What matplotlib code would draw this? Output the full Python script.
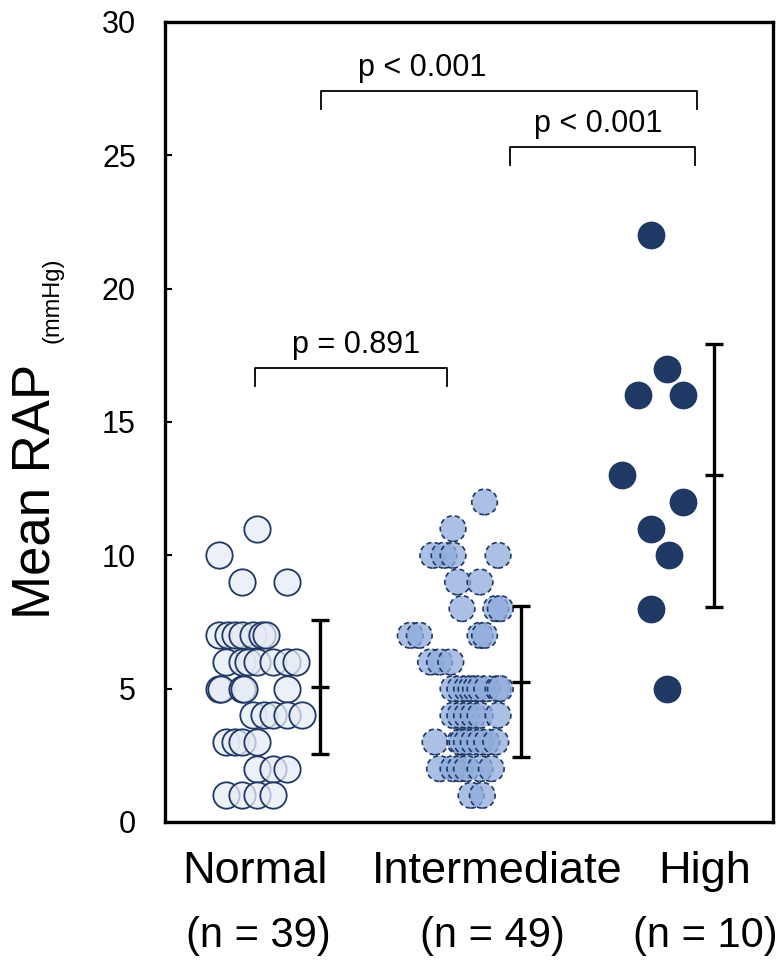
import numpy as np
import matplotlib
matplotlib.use("Agg")
import matplotlib.pyplot as plt

plt.rcParams["font.family"] = ["Liberation Sans", "DejaVu Sans"]

# values (x = group position incl. swarm offset)
normal_y = [11, 10, 9, 9,
            7, 7, 7, 7, 7, 7, 7,
            6, 6, 6, 6, 6, 6, 6,
            5, 5, 5, 5, 5,
            4, 4, 4, 4, 4,
            3, 3, 3, 3,
            2, 2, 2,
            1, 1, 1, 1]
normal_x = [1.01, 0.84, 0.94, 1.14,
            0.84, 0.88, 0.91, 0.94, 0.99, 1.03, 1.05,
            0.87, 0.94, 0.97, 1.01, 1.08, 1.14, 1.18,
            0.84, 0.85, 0.94, 0.95, 1.14,
            0.99, 1.04, 1.08, 1.14, 1.21,
            0.87, 0.91, 0.94, 1.01,
            1.01, 1.08, 1.14,
            0.87, 0.94, 1.01, 1.08]

inter_y = [12, 11,
           10, 10, 10, 10,
           9, 9,
           8, 8, 8,
           7, 7, 7, 7,
           6, 6, 6,
           5, 5, 5, 5, 5, 5, 5, 5, 5,
           4, 4, 4, 4, 4, 4,
           3, 3, 3, 3, 3, 3, 3, 3,
           2, 2, 2, 2, 2, 2,
           1, 1]
inter_x = [2.02, 1.88,
           1.79, 1.84, 1.88, 2.08,
           1.90, 2.00,
           1.92, 2.07, 2.09,
           1.69, 1.73, 2.00, 2.02,
           1.78, 1.82, 1.87,
           1.88, 1.91, 1.94, 1.96, 1.98, 2.00, 2.03, 2.08, 2.09,
           1.88, 1.91, 1.94, 1.97, 2.00, 2.08,
           1.80, 1.91, 1.92, 1.94, 1.97, 2.00, 2.03, 2.07,
           1.82, 1.88, 1.91, 1.94, 2.00, 2.05,
           1.96, 2.01]

high_y = [22, 17, 16, 16, 13, 12, 11, 10, 8, 5]
high_x = [2.76, 2.83, 2.70, 2.90, 2.63, 2.90, 2.76, 2.84, 2.76, 2.83]

groups = ["Normal", "Intermediate", "High"]
n_labels = ["(n = 39)", "(n = 49)", "(n = 10)"]
p_labels = ["p = 0.891", "p < 0.001", "p < 0.001"]

navy = "#1F3864"

fig = plt.figure(figsize=(7.84, 9.66), dpi=100)
ax = fig.add_axes([0.2105, 0.1491, 0.7755, 0.8282])

ax.scatter(normal_x, normal_y, s=360, facecolor=(0.90, 0.92, 0.96, 0.75),
           edgecolor=navy, linewidth=1.3, zorder=3)
ax.scatter(inter_x, inter_y, s=340, facecolor=(0.56, 0.67, 0.86, 0.75),
           edgecolor=navy, linewidth=1.2, linestyle=(0, (3, 2)), zorder=3)
ax.scatter(high_x, high_y, s=400, color="#203864", linewidth=0, zorder=3)

# mean +/- SD bars to the right of each group
bar_x = [1.29, 2.18, 3.04]
for bx, ys in zip(bar_x, [normal_y, inter_y, high_y]):
    m, sd = np.mean(ys), np.std(ys, ddof=1)
    ax.errorbar(bx, m, yerr=sd, fmt="_", color="black", ms=13, mew=2.4,
                elinewidth=2.4, capsize=6.5, capthick=2.4, zorder=4)

# significance brackets: (x0, x1, y, text x)
brackets = [(1.0, 1.853, 17.02, 1.449),
            (2.133, 2.956, 25.31, 2.524),
            (1.293, 2.964, 27.41, 1.742)]
for (x0, x1, y, tx), lab in zip(brackets, p_labels):
    ax.plot([x0, x0, x1, x1], [y - 0.66, y, y, y - 0.66], color="black", lw=1.3)
    ax.text(tx, y + 0.55, lab, ha="center", va="baseline", fontsize=22)

ax.set_xlim(0.6, 3.302)
ax.set_ylim(0, 30)
ax.set_yticks(range(0, 31, 5))
ax.set_xticks([])
ax.tick_params(axis="y", direction="in", length=5, width=1.5, pad=21, labelsize=22)
for sp in ax.spines.values():
    sp.set_linewidth(2.4)

tr = ax.get_xaxis_transform()
for x, lab in zip([1.0, 2.076, 2.996], groups):
    ax.text(x, -0.0625, lab, transform=tr, ha="center", va="center", fontsize=32.5)
for x, lab in zip([1.013, 2.053, 3.0], n_labels):
    ax.text(x, -0.142, lab, transform=tr, ha="center", va="center", fontsize=30)

fig.text(0.045, 0.491, "Mean RAP", rotation=90, ha="center", va="center", fontsize=38)
fig.text(0.067, 0.689, "(mmHg)", rotation=90, ha="center", va="center", fontsize=17)

fig.savefig("out.png", dpi=100)
